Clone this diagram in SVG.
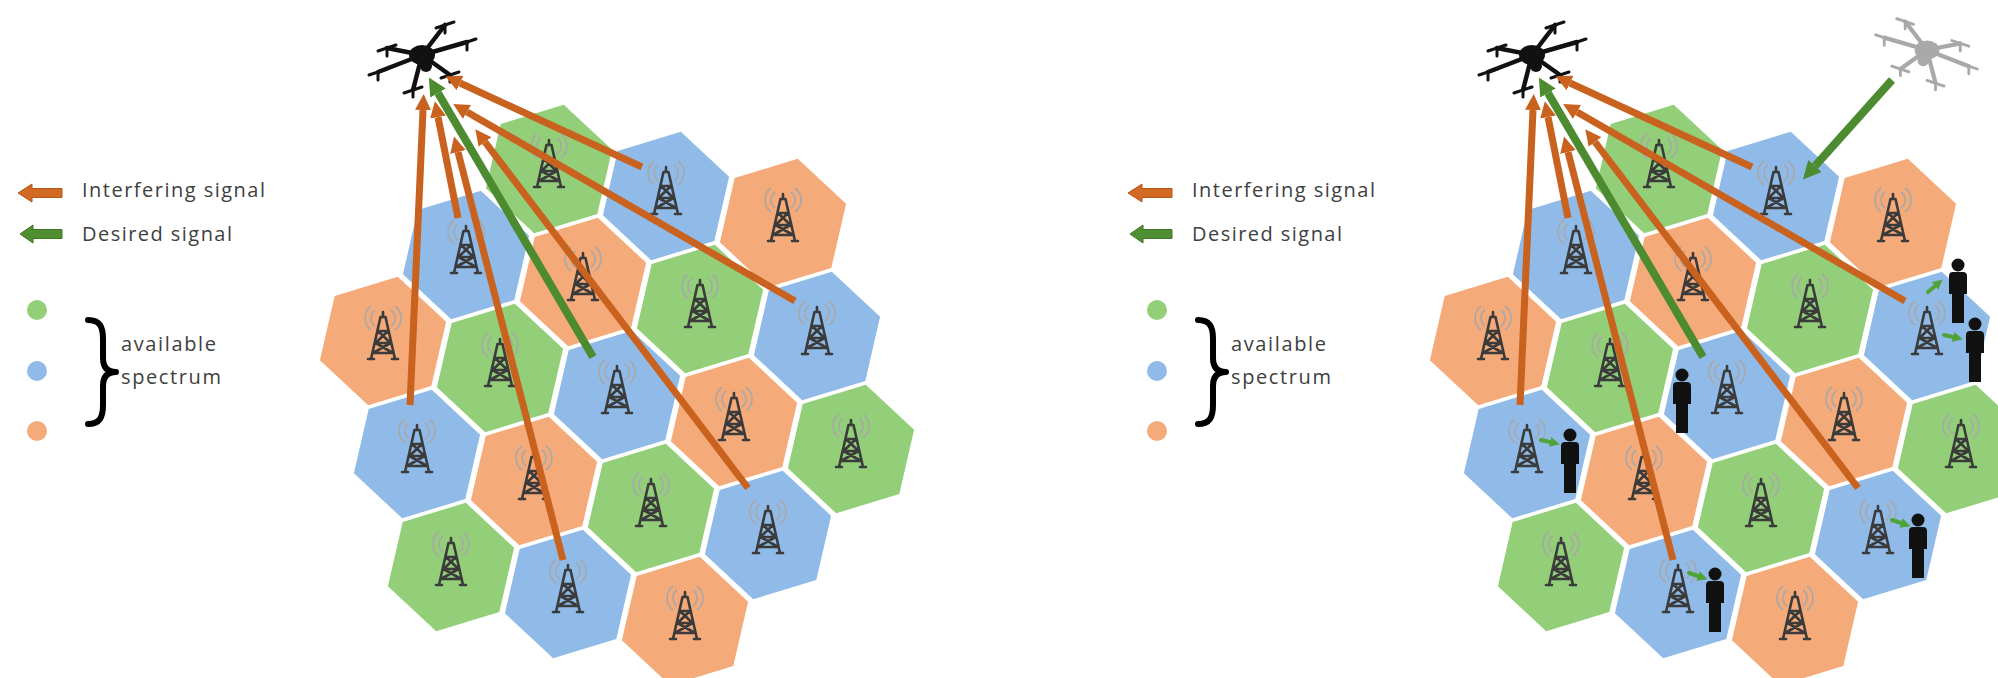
<svg xmlns="http://www.w3.org/2000/svg" xmlns:xlink="http://www.w3.org/1999/xlink" width="1998" height="678" viewBox="0 0 1998 678">
  <style>
    .g { fill: #93cf78; }
    .b { fill: #90bbe9; }
    .o { fill: #f5aa7a; }
    .txt { font-family: "Open Sans", "Noto Sans", "Liberation Sans", sans-serif; font-size: 20px; fill: #404040; }
    .twr { fill: none; stroke: #3b3b3b; stroke-width: 2.6; stroke-linecap: round; stroke-linejoin: round; }
    .arc { fill: none; stroke: #a8a8a8; stroke-width: 1.6; }
    .sigO { fill: none; stroke: #c8621e; stroke-width: 7; }
    .sigG { fill: none; stroke: #4c8b2f; stroke-width: 8; }
    .sigG2 { fill: none; stroke: #4fa33a; stroke-width: 4; stroke-linecap: round; }
    .brace { fill: none; stroke: #000; stroke-width: 6; stroke-linecap: round; stroke-linejoin: round; }
  </style>
  <defs>
    <path id="hex" d="M14.8,-64.3 L63.1,-19.3 L48.3,45 L-14.8,64.3 L-63.1,19.3 L-48.3,-45 Z"/>
    <g id="tower">
      <path class="arc" d="M-8,-31 A10,10 0 0 0 -8,-15 M-12,-35 A15,15 0 0 0 -12,-11 M8,-31 A10,10 0 0 1 8,-15 M12,-35 A15,15 0 0 1 12,-11"/>
      <path class="twr" d="M-12,18 L-2.5,-24 M12,18 L2.5,-24 M-2.5,-24 L2.5,-24 M0,-24 L0,-29 M-5,-10 L5,-10 M-7.5,2 L7.5,2 M-10,12 L10,12 M-5,-10 L7.5,2 M5,-10 L-7.5,2 M-7.5,2 L10,12 M7.5,2 L-10,12 M-15,18 L-9,18 M9,18 L15,18"/>
    </g>
    <g id="person">
      <circle cx="0" cy="-25" r="6.5"/>
      <path d="M-9,-14 Q-9,-18 -5,-18 L5,-18 Q9,-18 9,-14 L9,4 L6,4 L6,33 L-6,33 L-6,4 L-9,4 Z"/>
    </g>
    <g id="drone">
      <path d="M0,0 L-35,-7 M0,0 L-44,17 M0,0 L23,-30 M0,0 L45,-13 M0,0 L-9,35 M0,0 L28,20" stroke-width="4.5"/>
      <path d="M-44,-4 L-26,-10 M-53,20 L-35,14 M14,-27 L32,-33 M36,-10 L54,-16 M-18,38 L0,32 M19,23 L37,17" stroke-width="3"/>
      <path d="M-35,-7 L-35,1 M-44,17 L-44,25 M23,-30 L23,-22 M45,-13 L45,-5 M-9,35 L-9,42 M28,20 L28,27" stroke-width="3"/>
      <ellipse cx="0" cy="0" rx="13" ry="10" stroke="none"/>
      <circle cx="4" cy="11" r="6" stroke="none"/>
    </g>
    <marker id="headO" markerUnits="userSpaceOnUse" markerWidth="16" markerHeight="16" refX="0" refY="7" orient="auto" viewBox="0 0 14 14">
      <path d="M0,0 L14,7 L0,14 Z" fill="#c8621e"/>
    </marker>
    <marker id="headG" markerUnits="userSpaceOnUse" markerWidth="18" markerHeight="18" refX="0" refY="8" orient="auto" viewBox="0 0 16 16">
      <path d="M0,0 L16,8 L0,16 Z" fill="#4c8b2f"/>
    </marker>
    <marker id="headS" markerUnits="userSpaceOnUse" markerWidth="10" markerHeight="10" refX="0" refY="4" orient="auto" viewBox="0 0 8 8">
      <path d="M0,0 L8,4 L0,8 Z" fill="#4fa33a"/>
    </marker>
  </defs>

  <rect width="1998" height="678" fill="#ffffff"/>

  <!-- ===== Left scenario ===== -->
  <g id="legend-left">
    <path d="M18,193 L32,184 L32,188.5 L62,188.5 L62,197.5 L32,197.5 L32,202 Z" fill="#d26a24" stroke="#b3561a" stroke-width="1"/>
    <text class="txt" x="82" y="197" textLength="183">Interfering signal</text>
    <path d="M20,234 L33,225 L33,229.5 L62,229.5 L62,238.5 L33,238.5 L33,243 Z" fill="#4f8f32" stroke="#3f7428" stroke-width="1"/>
    <text class="txt" x="82" y="241" textLength="150">Desired signal</text>
    <circle cx="37" cy="310" r="10" class="g"/>
    <circle cx="37" cy="371" r="10" class="b"/>
    <circle cx="37" cy="431" r="10" class="o"/>
    <path class="brace" d="M88,320 C100,320 103,327 103,339 L103,358 C103,367 107,372 116,372 C107,372 103,377 103,386 L103,405 C103,417 100,424 88,424"/>
    <text class="txt" x="121" y="351" textLength="95">available</text>
    <text class="txt" x="121" y="384" textLength="100">spectrum</text>
  </g>

  <g id="cells-left">
    <g id="L-c0m2" transform="translate(549,169)"><use href="#hex" class="g"/><use href="#tower"/></g>
    <g id="L-c1m2" transform="translate(666,196)"><use href="#hex" class="b"/><use href="#tower"/></g>
    <g id="L-c2m2" transform="translate(783,223)"><use href="#hex" class="o"/><use href="#tower"/></g>
    <g id="L-cm1m1" transform="translate(466,255)"><use href="#hex" class="b"/><use href="#tower"/></g>
    <g id="L-c0m1" transform="translate(583,282)"><use href="#hex" class="o"/><use href="#tower"/></g>
    <g id="L-c1m1" transform="translate(700,309)"><use href="#hex" class="g"/><use href="#tower"/></g>
    <g id="L-c2m1" transform="translate(817,336)"><use href="#hex" class="b"/><use href="#tower"/></g>
    <g id="L-cm20" transform="translate(383,341)"><use href="#hex" class="o"/><use href="#tower"/></g>
    <g id="L-cm10" transform="translate(500,368)"><use href="#hex" class="g"/><use href="#tower"/></g>
    <g id="L-c00" transform="translate(617,395)"><use href="#hex" class="b"/><use href="#tower"/></g>
    <g id="L-c10" transform="translate(734,422)"><use href="#hex" class="o"/><use href="#tower"/></g>
    <g id="L-c20" transform="translate(851,449)"><use href="#hex" class="g"/><use href="#tower"/></g>
    <g id="L-cm21" transform="translate(417,454)"><use href="#hex" class="b"/><use href="#tower"/></g>
    <g id="L-cm11" transform="translate(534,481)"><use href="#hex" class="o"/><use href="#tower"/></g>
    <g id="L-c01" transform="translate(651,508)"><use href="#hex" class="g"/><use href="#tower"/></g>
    <g id="L-c11" transform="translate(768,535)"><use href="#hex" class="b"/><use href="#tower"/></g>
    <g id="L-cm22" transform="translate(451,567)"><use href="#hex" class="g"/><use href="#tower"/></g>
    <g id="L-cm12" transform="translate(568,594)"><use href="#hex" class="b"/><use href="#tower"/></g>
    <g id="L-c02" transform="translate(685,621)"><use href="#hex" class="o"/><use href="#tower"/></g>
  </g>

  <g id="drone-left" transform="translate(422,55)" fill="#111" stroke="#111" stroke-linecap="round"><use href="#drone"/></g>

  <g id="links-left">
    <line class="sigO" x1="642" y1="167" x2="460" y2="83" marker-end="url(#headO)"/>
    <line class="sigO" x1="410" y1="405" x2="423" y2="110" marker-end="url(#headO)"/>
    <line class="sigO" x1="458" y1="218" x2="438" y2="117" marker-end="url(#headO)"/>
    <line class="sigO" x1="563" y1="560" x2="458" y2="152" marker-end="url(#headO)"/>
    <line class="sigO" x1="748" y1="488" x2="485" y2="142" marker-end="url(#headO)"/>
    <line class="sigO" x1="795" y1="301" x2="467" y2="112" marker-end="url(#headO)"/>
    <line class="sigG" x1="593" y1="357" x2="438" y2="93" marker-end="url(#headG)"/>
  </g>

  <!-- ===== Right scenario ===== -->
  <g id="legend-right">
    <path d="M1128,193 L1142,184 L1142,188.5 L1172,188.5 L1172,197.5 L1142,197.5 L1142,202 Z" fill="#d26a24" stroke="#b3561a" stroke-width="1"/>
    <text class="txt" x="1192" y="197" textLength="183">Interfering signal</text>
    <path d="M1130,234 L1143,225 L1143,229.5 L1172,229.5 L1172,238.5 L1143,238.5 L1143,243 Z" fill="#4f8f32" stroke="#3f7428" stroke-width="1"/>
    <text class="txt" x="1192" y="241" textLength="150">Desired signal</text>
    <circle cx="1157" cy="310" r="10" class="g"/>
    <circle cx="1157" cy="371" r="10" class="b"/>
    <circle cx="1157" cy="431" r="10" class="o"/>
    <path class="brace" d="M1198,320 C1210,320 1213,327 1213,339 L1213,358 C1213,367 1217,372 1226,372 C1217,372 1213,377 1213,386 L1213,405 C1213,417 1210,424 1198,424"/>
    <text class="txt" x="1231" y="351" textLength="95">available</text>
    <text class="txt" x="1231" y="384" textLength="100">spectrum</text>
  </g>

  <g id="cells-right">
    <g id="R-c0m2" transform="translate(1659,169)"><use href="#hex" class="g"/><use href="#tower"/></g>
    <g id="R-c1m2" transform="translate(1776,196)"><use href="#hex" class="b"/><use href="#tower"/></g>
    <g id="R-c2m2" transform="translate(1893,223)"><use href="#hex" class="o"/><use href="#tower"/></g>
    <g id="R-cm1m1" transform="translate(1576,255)"><use href="#hex" class="b"/><use href="#tower"/></g>
    <g id="R-c0m1" transform="translate(1693,282)"><use href="#hex" class="o"/><use href="#tower"/></g>
    <g id="R-c1m1" transform="translate(1810,309)"><use href="#hex" class="g"/><use href="#tower"/></g>
    <g id="R-c2m1" transform="translate(1927,336)"><use href="#hex" class="b"/><use href="#tower"/></g>
    <g id="R-cm20" transform="translate(1493,341)"><use href="#hex" class="o"/><use href="#tower"/></g>
    <g id="R-cm10" transform="translate(1610,368)"><use href="#hex" class="g"/><use href="#tower"/></g>
    <g id="R-c00" transform="translate(1727,395)"><use href="#hex" class="b"/><use href="#tower"/></g>
    <g id="R-c10" transform="translate(1844,422)"><use href="#hex" class="o"/><use href="#tower"/></g>
    <g id="R-c20" transform="translate(1961,449)"><use href="#hex" class="g"/><use href="#tower"/></g>
    <g id="R-cm21" transform="translate(1527,454)"><use href="#hex" class="b"/><use href="#tower"/></g>
    <g id="R-cm11" transform="translate(1644,481)"><use href="#hex" class="o"/><use href="#tower"/></g>
    <g id="R-c01" transform="translate(1761,508)"><use href="#hex" class="g"/><use href="#tower"/></g>
    <g id="R-c11" transform="translate(1878,535)"><use href="#hex" class="b"/><use href="#tower"/></g>
    <g id="R-cm22" transform="translate(1561,567)"><use href="#hex" class="g"/><use href="#tower"/></g>
    <g id="R-cm12" transform="translate(1678,594)"><use href="#hex" class="b"/><use href="#tower"/></g>
    <g id="R-c02" transform="translate(1795,621)"><use href="#hex" class="o"/><use href="#tower"/></g>
  </g>

  <g id="users-right" fill="#111">
    <g id="user-1"><use href="#person" transform="translate(1570,460)"/><line class="sigG2" x1="1541" y1="440" x2="1550" y2="442" marker-end="url(#headS)"/></g>
    <g id="user-2"><use href="#person" transform="translate(1682,400)"/></g>
    <g id="user-3"><use href="#person" transform="translate(1715,599)"/><line class="sigG2" x1="1689" y1="573" x2="1698" y2="576" marker-end="url(#headS)"/></g>
    <g id="user-4"><use href="#person" transform="translate(1958,290)"/><line class="sigG2" x1="1928" y1="292" x2="1935" y2="286" marker-end="url(#headS)"/></g>
    <g id="user-5"><use href="#person" transform="translate(1975,349)"/><line class="sigG2" x1="1944" y1="335" x2="1953" y2="337" marker-end="url(#headS)"/></g>
    <g id="user-6"><use href="#person" transform="translate(1918,545)"/><line class="sigG2" x1="1892" y1="520" x2="1901" y2="523" marker-end="url(#headS)"/></g>
  </g>

  <g id="drone-right" transform="translate(1532,55)" fill="#111" stroke="#111" stroke-linecap="round"><use href="#drone"/></g>
  <g id="drone-neighbour" transform="translate(1927,50) scale(-0.95,0.95)" fill="#a9a9a9" stroke="#a9a9a9" stroke-linecap="round"><use href="#drone"/></g>

  <g id="links-right">
    <line class="sigO" x1="1752" y1="167" x2="1570" y2="83" marker-end="url(#headO)"/>
    <line class="sigO" x1="1520" y1="405" x2="1533" y2="110" marker-end="url(#headO)"/>
    <line class="sigO" x1="1568" y1="218" x2="1548" y2="117" marker-end="url(#headO)"/>
    <line class="sigO" x1="1673" y1="560" x2="1568" y2="152" marker-end="url(#headO)"/>
    <line class="sigO" x1="1858" y1="488" x2="1595" y2="142" marker-end="url(#headO)"/>
    <line class="sigO" x1="1905" y1="301" x2="1577" y2="112" marker-end="url(#headO)"/>
    <line class="sigG" x1="1703" y1="357" x2="1548" y2="93" marker-end="url(#headG)"/>
    <line class="sigG" x1="1892" y1="80" x2="1815" y2="166" marker-end="url(#headG)"/>
  </g>
</svg>
